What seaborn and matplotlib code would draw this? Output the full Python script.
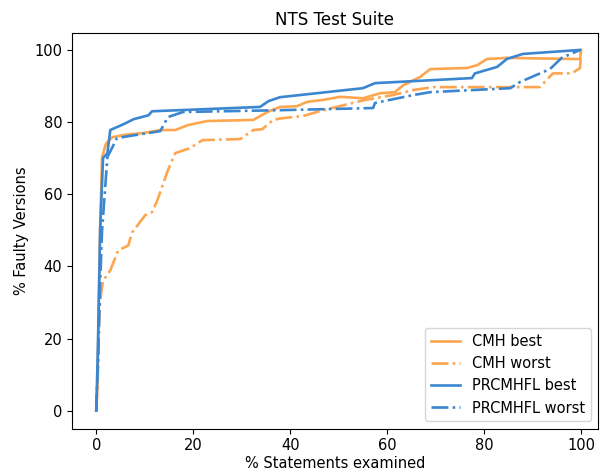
import matplotlib
matplotlib.use("Agg")
import matplotlib.pyplot as plt
import seaborn as sns
import pandas as pd

# CMH best
cmh_best_x = [0, 0.3, 0.5, 0.8, 1.2, 2, 3.3, 6, 10, 13.2, 16.3, 19, 22.9, 32.4, 35.3, 37.9,
              41.4, 43.5, 47, 50.3, 55, 58.6, 61.6, 63.3, 66.8, 68.9, 76.5, 78.6, 80.6, 84.7,
              98.4, 99.8, 100]
cmh_best_y = [0, 8, 30, 50, 70.3, 74, 75.8, 76.5, 77, 77.8, 77.8, 79.2, 80.3, 80.6, 82.8, 84.2,
              84.4, 85.6, 86.2, 87, 86.6, 88, 88.3, 90.2, 92.5, 94.7, 95, 95.8, 97.5, 97.8,
              97.5, 97.5, 100]

# CMH worst
cmh_worst_x = [0, 0.3, 0.6, 0.8, 1.4, 2.9, 4.5, 6.6, 7.4, 10.1, 11.5, 12.6, 14.8, 16.3, 19.4,
               21.9, 29.7, 32.4, 34.2, 36.5, 37.9, 42.7, 46.8, 55, 61.2, 65.4, 69.5, 91.5,
               94.2, 98.1, 99.8, 100]
cmh_worst_y = [0, 10, 25, 30.5, 36, 38.9, 44.4, 45.8, 49.4, 54.2, 55, 58.3, 66.7, 71.4, 72.8,
               75, 75.3, 77.8, 78, 80.6, 81, 81.7, 83.3, 86, 87.5, 88.9, 89.7, 89.7,
               93.5, 93.5, 95, 100]

# PRCMHFL best
prc_best_x = [0, 0.3, 0.6, 0.8, 1.4, 2.3, 2.9, 5.6, 7.7, 10.8, 11.5, 33.8, 35.5, 37.9, 55,
              57.5, 77.5, 78.1, 82.7, 84.7, 88, 99.8]
prc_best_y = [0, 15, 35, 50, 70, 71.4, 77.8, 79.4, 80.8, 81.9, 83, 84.2, 85.8, 86.9, 89.4,
              90.8, 92.2, 93.5, 95.3, 97.5, 98.9, 100]

# PRCMHFL worst
prc_worst_x = [0, 0.4, 0.8, 1.2, 2.3, 4.3, 13.2, 14.8, 17.9, 37.9, 57.1, 57.5, 65.4, 68.9,
               85.4, 87.4, 93.6, 96, 99.8]
prc_worst_y = [0, 15, 35, 50, 70.3, 75.6, 77.5, 81.4, 82.8, 83.3, 83.9, 85.3, 87.5, 88.3,
               89.4, 91.1, 94.7, 97.8, 100]

series_names = ["CMH best", "CMH worst", "PRCMHFL best", "PRCMHFL worst"]
title = "NTS Test Suite"
xlabel = "% Statements examined"
ylabel = "% Faulty Versions"

ORANGE = "#FDA64F"
BLUE = "#3B86D0"

fig = plt.figure(figsize=(6.05, 4.72), dpi=100)
ax = fig.add_axes([72 / 605, 1 - 428.7 / 472, (598 - 72) / 605, (428.7 - 33) / 472])

data = [
    (cmh_best_x, cmh_best_y, ORANGE, "-"),
    (cmh_worst_x, cmh_worst_y, ORANGE, "-."),
    (prc_best_x, prc_best_y, BLUE, "-"),
    (prc_worst_x, prc_worst_y, BLUE, "-."),
]
for name, (xs, ys, c, ls) in zip(series_names, data):
    df = pd.DataFrame({"x": xs, "y": ys})
    sns.lineplot(data=df, x="x", y="y", ax=ax, sort=False, estimator=None,
                 color=c, linestyle=ls, linewidth=1.9, label=name)

ax.set_xlim(-5, 103.5)
ax.set_ylim(-5, 104.7)
ax.set_xticks([0, 20, 40, 60, 80, 100])
ax.set_yticks([0, 20, 40, 60, 80, 100])
ax.tick_params(labelsize=10.5)
ax.set_title(title, fontsize=12)
ax.set_xlabel(xlabel, fontsize=10.5, labelpad=2)
ax.set_ylabel(ylabel, fontsize=10.5)
ax.legend(loc="lower right", fontsize=10.5)

fig.savefig("out.png", dpi=100)
